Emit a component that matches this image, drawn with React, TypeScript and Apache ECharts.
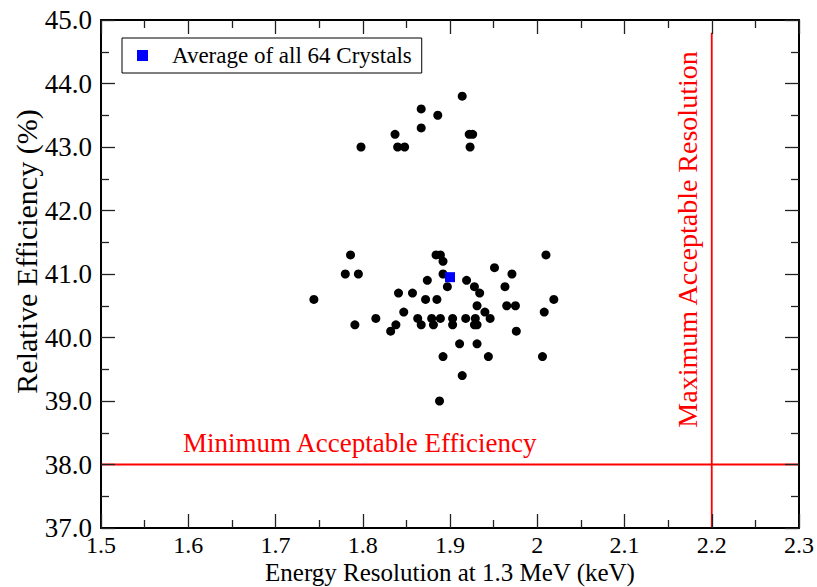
import React, { useEffect, useRef } from "react";
import * as echarts from "echarts";

// Per-crystal measurements: energy resolution at 1.3 MeV (keV) and relative efficiency (%)
const energyResolution = [
  1.798, 1.837, 1.84, 1.848, 1.867, 1.867, 1.886, 1.914, 1.922, 1.926, 1.923,
  1.786, 1.884, 1.889, 1.892, 2.01, 1.78, 1.795, 1.892, 1.951, 1.971,
  1.874, 1.919, 1.897, 1.928, 1.963, 1.934, 1.841, 1.857, 1.744, 2.019,
  1.872, 1.885, 1.931, 1.965, 1.975, 1.847, 1.94, 2.008,
  1.815, 1.863, 1.879, 1.889, 1.903, 1.918, 1.929, 1.946,
  1.791, 1.838, 1.867, 1.881, 1.903, 1.928, 1.931,
  1.832, 1.976, 1.911, 1.931, 1.892, 1.944, 2.006, 1.914, 1.888,
];
const relativeEfficiency = [
  43.0, 43.2, 43.0, 43.0, 43.6, 43.3, 43.5, 43.8, 43.2, 43.2, 43.0,
  41.3, 41.3, 41.3, 41.2, 41.3, 41.0, 41.0, 41.0, 41.1, 41.0,
  40.9, 40.9, 40.8, 40.8, 40.8, 40.7, 40.7, 40.7, 40.6, 40.6,
  40.6, 40.6, 40.5, 40.5, 40.5, 40.4, 40.4, 40.4,
  40.3, 40.3, 40.3, 40.3, 40.3, 40.3, 40.3, 40.3,
  40.2, 40.2, 40.2, 40.2, 40.2, 40.2, 40.2,
  40.1, 40.1, 39.9, 39.9, 39.7, 39.7, 39.7, 39.4, 39.0,
];
const averagePoint = [1.9, 40.95];
const averageLabel = "Average of all 64 Crystals";

// Acceptance limits
const minEfficiency = 38.0;
const maxResolution = 2.2;
const maxResolutionLineTop = 44.8;
const minEfficiencyLabel = "Minimum Acceptable Efficiency";
const maxResolutionLabel = "Maximum Acceptable Resolution";

// Axis ranges
const xRange = [1.5, 2.3];
const yRange = [37.0, 45.0];
const xTitle = "Energy Resolution at 1.3 MeV (keV)";
const yTitle = "Relative Efficiency (%)";

const FONT = "Liberation Serif";

// Boxed frame: every side carries inward major + minor ticks
function frameAxis(position: string, range: number[], interval: number) {
  return {
    type: "value",
    position,
    min: range[0],
    max: range[1],
    interval,
    z: 5,
    axisLine: { show: true, onZero: false, lineStyle: { color: "#000", width: 2 } },
    axisTick: { show: true, inside: true, length: 14, lineStyle: { color: "#222", width: 1.3 } },
    minorTick: { show: true, splitNumber: 2, length: 8, lineStyle: { color: "#222", width: 1.3 } },
    splitLine: { show: false },
    minorSplitLine: { show: false },
  };
}

export default function App() {
  const ref = useRef<HTMLDivElement>(null);

  useEffect(() => {
    if (!ref.current) return;
    const chart = echarts.init(ref.current, undefined, { renderer: "svg" });

    const crystals = energyResolution.map((x, i) => [x, relativeEfficiency[i]]);

    chart.setOption({
      animation: false,
      backgroundColor: "#fff",
      textStyle: { fontFamily: FONT },
      grid: { left: 101, right: 18, top: 20, bottom: 59, outerBoundsMode: "none" },
      legend: {
        left: 122,
        top: 38,
        padding: [6, 10, 6, 15],
        borderColor: "#000",
        borderWidth: 1,
        itemWidth: 11,
        itemHeight: 11,
        data: [{ name: averageLabel, icon: "rect" }],
        textStyle: { fontFamily: FONT, fontSize: 23, color: "#000", padding: [0, 0, 0, 19] },
      },
      xAxis: [
        {
          ...frameAxis("bottom", xRange, 0.1),
          name: xTitle,
          nameLocation: "middle",
          nameGap: 33,
          nameMoveOverlap: false,
          nameTextStyle: { fontFamily: FONT, fontSize: 25, color: "#000", lineHeight: 22 },
          axisLabel: {
            show: true,
            fontFamily: FONT,
            fontSize: 24,
            lineHeight: 20,
            color: "#000",
            margin: 7,
            formatter: (v: number) => String(Math.round(v * 10) / 10),
          },
        },
        { ...frameAxis("top", xRange, 0.1), axisLabel: { show: false } },
      ],
      yAxis: [
        {
          ...frameAxis("left", yRange, 1),
          axisLabel: {
            show: true,
            fontFamily: FONT,
            fontSize: 27,
            color: "#000",
            margin: 9,
            formatter: (v: number) => v.toFixed(1),
          },
        },
        { ...frameAxis("right", yRange, 1), axisLabel: { show: false } },
      ],
      series: [
        {
          name: "Crystals",
          type: "scatter",
          symbol: "circle",
          symbolSize: 9,
          itemStyle: { color: "#000", opacity: 1 },
          data: crystals,
          z: 3,
        },
        {
          name: averageLabel,
          type: "scatter",
          symbol: "rect",
          symbolSize: 10,
          itemStyle: { color: "#0000ff", opacity: 1 },
          data: [averagePoint],
          z: 4,
        },
        {
          name: "min-efficiency",
          type: "line",
          symbol: "none",
          lineStyle: { color: "#ff0000", width: 1.8 },
          data: [
            [xRange[0], minEfficiency],
            [xRange[1], minEfficiency],
          ],
          z: 2,
        },
        {
          name: "max-resolution",
          type: "line",
          symbol: "none",
          lineStyle: { color: "#ff0000", width: 1.8 },
          data: [
            [maxResolution, yRange[0]],
            [maxResolution, maxResolutionLineTop],
          ],
          z: 2,
        },
      ],
      graphic: [
        {
          type: "text",
          x: 183,
          y: 442.5,
          style: {
            text: minEfficiencyLabel,
            fill: "#ff0000",
            fontFamily: FONT,
            fontSize: 27,
            align: "left",
            verticalAlign: "middle",
          },
        },
        {
          type: "text",
          x: 687.5,
          y: 239.5,
          rotation: Math.PI / 2,
          style: {
            text: maxResolutionLabel,
            fill: "#ff0000",
            fontFamily: FONT,
            fontSize: 28,
            align: "center",
            verticalAlign: "middle",
          },
        },
        {
          type: "text",
          x: 26,
          y: 251.5,
          rotation: Math.PI / 2,
          style: {
            text: yTitle,
            fill: "#000",
            fontFamily: FONT,
            fontSize: 30,
            align: "center",
            verticalAlign: "middle",
          },
        },
      ],
    });

    return () => chart.dispose();
  }, []);

  return (
    <div
      ref={ref}
      style={{ position: "absolute", left: 0, top: 0, width: 817, height: 587 }}
    />
  );
}
